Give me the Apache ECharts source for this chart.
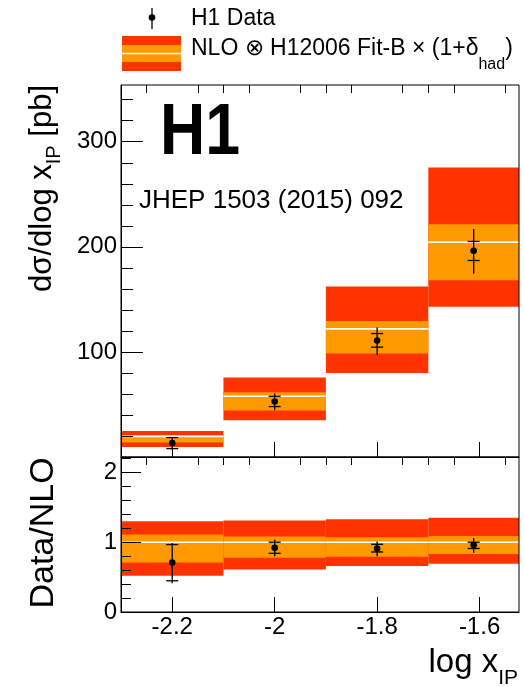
<!DOCTYPE html>
<html>
<head>
<meta charset="utf-8">
<script src="https://cdn.jsdelivr.net/npm/echarts@6/dist/echarts.min.js"></script>
<style>
html,body{margin:0;padding:0;background:#fff;}
#c{width:524px;height:687px;}
</style>
</head>
<body>
<div id="c"></div>
<script>
// ---- data ----
const binLo = [-2.3, -2.1, -1.9, -1.7];
const binHi = [-2.1, -1.9, -1.7, -1.523];
const xCenter = [-2.2, -2.0, -1.8, -1.6115];

// top panel: NLO prediction (pb)
const nloCentral = [19.6, 57.8, 121.9, 204.5];
const nloInnerLo = [13.7, 44.2, 98.5, 168.3];
const nloInnerHi = [20.6, 61.6, 129.5, 221.6];
const nloOuterLo = [9.5, 35.0, 80.0, 142.9];
const nloOuterHi = [24.8, 75.6, 162.3, 275.6];
// top panel: H1 data (pb)
const dataVal = [13.3, 52.8, 110.8, 196.2];
const dataStatLo = [8.0, 48.0, 104.5, 187.0];
const dataStatHi = [18.5, 57.8, 117.5, 205.1];
const dataTotLo = [7.0, 44.8, 97.1, 174.3];
const dataTotHi = [19.0, 60.7, 123.2, 216.9];

// bottom panel: ratio
const ratioCentral = [1, 1, 1, 1];
const ratioInnerLo = [0.71, 0.776, 0.79, 0.83];
const ratioInnerHi = [1.11, 1.08, 1.07, 1.09];
const ratioOuterLo = [0.52, 0.61, 0.66, 0.69];
const ratioOuterHi = [1.30, 1.31, 1.33, 1.35];
const ratioVal = [0.71, 0.92, 0.91, 0.96];
const ratioStatLo = [0.447, 0.84, 0.86, 0.91];
const ratioStatHi = [0.966, 1.0, 0.97, 1.0];
const ratioTotLo = [0.41, 0.80, 0.80, 0.85];
const ratioTotHi = [0.99, 1.04, 1.01, 1.06];

// axes / ticks
const xMin = -2.3, xMax = -1.523;
const xMajorTicks = [-2.2, -2.0, -1.8, -1.6];
const xMinorTicks = [-2.25, -2.15, -2.1, -2.05, -1.95, -1.9, -1.85, -1.75, -1.7, -1.65, -1.55];
const yTopMin = 0, yTopMax = 354;
const yTopMajor = [100, 200, 300];
const yTopMinor = [20, 40, 60, 80, 120, 140, 160, 180, 220, 240, 260, 280, 320, 340];
const yBotMin = 0, yBotMax = 2.22;
const yBotMajor = [0, 1, 2];
const yBotMinor = [0.2, 0.4, 0.6, 0.8, 1.2, 1.4, 1.6, 1.8, 2.2];

const RED = '#ff3300', ORANGE = '#ff9900';
const FONT = '"Liberation Sans", Arial, sans-serif';

function bandRows(c, il, ih, ol, oh) {
  return binLo.map((lo, i) => [lo, binHi[i], ol[i], oh[i], il[i], ih[i], c[i]]);
}
function pointRows(v, sl, sh, tl, th) {
  return xCenter.map((x, i) => [x, v[i], sl[i], sh[i], tl[i], th[i]]);
}

function renderBand(params, api) {
  const x0 = api.value(0), x1 = api.value(1);
  const oA = api.coord([x0, api.value(3)]), oB = api.coord([x1, api.value(2)]);
  const iA = api.coord([x0, api.value(5)]), iB = api.coord([x1, api.value(4)]);
  const cA = api.coord([x0, api.value(6)]), cB = api.coord([x1, api.value(6)]);
  return {
    type: 'group',
    children: [
      { type: 'rect', shape: { x: oA[0], y: oA[1], width: oB[0] - oA[0], height: oB[1] - oA[1] }, style: { fill: RED } },
      { type: 'rect', shape: { x: iA[0], y: iA[1], width: iB[0] - iA[0], height: iB[1] - iA[1] }, style: { fill: ORANGE } },
      { type: 'line', shape: { x1: cA[0], y1: cA[1], x2: cB[0], y2: cB[1] }, style: { stroke: '#fff', lineWidth: 1.6 } }
    ]
  };
}
function renderPoint(params, api) {
  const x = api.value(0);
  const c = api.coord([x, api.value(1)]);
  const sl = api.coord([x, api.value(2)]), sh = api.coord([x, api.value(3)]);
  const tl = api.coord([x, api.value(4)]), th = api.coord([x, api.value(5)]);
  const hw = 6;
  const ls = { stroke: '#000', lineWidth: 1.3 };
  return {
    type: 'group',
    children: [
      { type: 'line', shape: { x1: c[0], y1: th[1], x2: c[0], y2: tl[1] }, style: ls },
      { type: 'line', shape: { x1: c[0] - hw, y1: sh[1], x2: c[0] + hw, y2: sh[1] }, style: ls },
      { type: 'line', shape: { x1: c[0] - hw, y1: sl[1], x2: c[0] + hw, y2: sl[1] }, style: ls },
      { type: 'circle', shape: { cx: c[0], cy: c[1], r: 3.3 }, style: { fill: '#000' } }
    ]
  };
}

function xAx(grid, major, showLabel) {
  return {
    gridIndex: grid, type: 'value', min: xMin, max: xMax, z: 10,
    axisLine: { show: major, onZero: false, lineStyle: { color: '#000', width: 1 } },
    axisTick: { show: true, inside: true, length: major ? 15 : 8,
      customValues: major ? xMajorTicks : xMinorTicks, lineStyle: { color: '#000', width: 1 } },
    axisLabel: { show: showLabel, customValues: xMajorTicks, color: '#000', fontSize: 24, fontFamily: FONT, margin: 3,
      formatter: v => String(Math.round(v * 10) / 10) },
    splitLine: { show: false }
  };
}
function yAx(grid, major, min, max, majorTicks, minorTicks, lenMaj, lenMin) {
  return {
    gridIndex: grid, type: 'value', min: min, max: max, z: 10, position: 'left',
    axisLine: { show: major, onZero: false, lineStyle: { color: '#000', width: 1 } },
    axisTick: { show: true, inside: true, length: major ? lenMaj : lenMin,
      customValues: major ? majorTicks : minorTicks, lineStyle: { color: '#000', width: 1 } },
    axisLabel: { show: major, customValues: majorTicks, color: '#000', fontSize: 24, fontFamily: FONT, margin: 4 },
    splitLine: { show: false }
  };
}

const chart = echarts.init(document.getElementById('c'), null, { renderer: 'canvas' });
chart.setOption({
  animation: false,
  backgroundColor: '#fff',
  grid: [
    { left: 121, top: 85, width: 398, height: 372, show: true, borderColor: '#000', borderWidth: 1, backgroundColor: 'transparent', z: 5 },
    { left: 121, top: 457, width: 398, height: 155, show: true, borderColor: '#000', borderWidth: 1, backgroundColor: 'transparent', z: 5 }
  ],
  xAxis: [xAx(0, true, false), xAx(0, false, false), xAx(1, true, true), xAx(1, false, false)],
  yAxis: [
    yAx(0, true, yTopMin, yTopMax, yTopMajor, yTopMinor, 22, 12),
    yAx(0, false, yTopMin, yTopMax, yTopMajor, yTopMinor, 22, 12),
    yAx(1, true, yBotMin, yBotMax, yBotMajor, yBotMinor, 20, 10),
    yAx(1, false, yBotMin, yBotMax, yBotMajor, yBotMinor, 20, 10)
  ],
  series: [
    { type: 'custom', xAxisIndex: 0, yAxisIndex: 0, renderItem: renderBand, clip: true, z: 2,
      data: bandRows(nloCentral, nloInnerLo, nloInnerHi, nloOuterLo, nloOuterHi) },
    { type: 'custom', xAxisIndex: 0, yAxisIndex: 0, renderItem: renderPoint, clip: true, z: 3,
      data: pointRows(dataVal, dataStatLo, dataStatHi, dataTotLo, dataTotHi) },
    { type: 'custom', xAxisIndex: 2, yAxisIndex: 2, renderItem: renderBand, clip: true, z: 2,
      data: bandRows(ratioCentral, ratioInnerLo, ratioInnerHi, ratioOuterLo, ratioOuterHi) },
    { type: 'custom', xAxisIndex: 2, yAxisIndex: 2, renderItem: renderPoint, clip: true, z: 3,
      data: pointRows(ratioVal, ratioStatLo, ratioStatHi, ratioTotLo, ratioTotHi) }
  ],
  graphic: [
    // legend
    { type: 'line', shape: { x1: 152, y1: 8, x2: 152, y2: 29 }, style: { stroke: '#000', lineWidth: 1.3 } },
    { type: 'circle', shape: { cx: 152, cy: 17.5, r: 3.3 }, style: { fill: '#000' } },
    { type: 'rect', shape: { x: 122, y: 36, width: 59, height: 35 }, style: { fill: RED } },
    { type: 'rect', shape: { x: 122, y: 45, width: 59, height: 17 }, style: { fill: ORANGE } },
    { type: 'line', shape: { x1: 122, y1: 53.5, x2: 181, y2: 53.5 }, style: { stroke: '#fff', lineWidth: 1.6 } },
    { type: 'text', x: 191, y: 18.5, style: { text: 'H1 Data', font: '23px ' + FONT, fill: '#000', verticalAlign: 'middle' } },
    { type: 'text', x: 191, y: 49, style: { text: 'NLO ⊗ H12006 Fit-B × (1+δ{s|had})', font: '23px ' + FONT, fill: '#000', verticalAlign: 'middle',
      rich: { s: { fontSize: 16, fontFamily: FONT, padding: [32, 0, 0, 0] } } } },
    // labels inside plot
    { type: 'text', x: 160, y: 134, scaleX: 0.87, z: 20, style: { text: 'H1', font: 'bold 72px ' + FONT, fill: '#000', verticalAlign: 'middle' } },
    { type: 'text', x: 139, y: 201, z: 20, style: { text: 'JHEP 1503 (2015) 092', font: '26px ' + FONT, fill: '#000', verticalAlign: 'middle' } },
    // axis titles
    { type: 'text', x: 42, y: 85, rotation: Math.PI / 2, style: { text: 'dσ/dlog x{s|IP} [pb]', font: '31px ' + FONT, fill: '#000',
      align: 'right', verticalAlign: 'middle', rich: { s: { fontSize: 20, fontFamily: FONT, padding: [24, 0, 0, 0] } } } },
    { type: 'text', x: 44, y: 533, rotation: Math.PI / 2, style: { text: 'Data/NLO', font: '34px ' + FONT, fill: '#000',
      align: 'center', verticalAlign: 'middle' } },
    { type: 'text', x: 518, y: 663, style: { text: 'log x{s|IP}', font: '33px ' + FONT, fill: '#000',
      align: 'right', verticalAlign: 'middle', rich: { s: { fontSize: 21, fontFamily: FONT, padding: [30, 0, 0, 0] } } } }
  ]
});
</script>
</body>
</html>
